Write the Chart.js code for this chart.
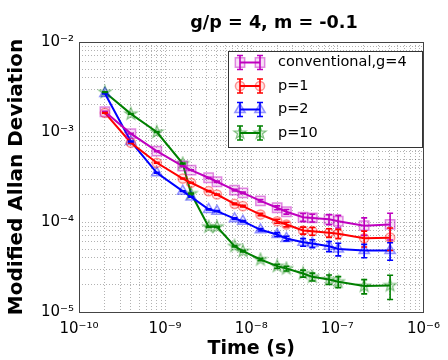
<!DOCTYPE html>
<html><head><meta charset="utf-8">
<script src="https://cdn.jsdelivr.net/npm/chart.js@4/dist/chart.umd.min.js"></script>
<style>html,body{margin:0;padding:0;background:#fff}#wrap{width:448px;height:360px}</style>
</head><body><div id="wrap"><canvas id="c" width="448" height="360"></canvas></div>
<script>
// ---- data ----
const tau = [2e-10,4e-10,8e-10,1.6e-9,2e-9,3.2e-9,4e-9,6.4e-9,8e-9,1.28e-8,2e-8,2.56e-8,4e-8,5.12e-8,8e-8,1.024e-7,2.048e-7,4.096e-7];
const seriesNames = ['conventional,g=4','p=1','p=2','p=10'];
const conventional = [1.68e-3,9.6e-4,6.12e-4,4.19e-4,3.77e-4,3.10e-4,2.80e-4,2.26e-4,2.11e-4,1.72e-4,1.44e-4,1.30e-4,1.13e-4,1.11e-4,1.07e-4,1.02e-4,9.1e-5,9.4e-5];
const p1 = [1.63e-3,7.59e-4,4.55e-4,3.04e-4,2.73e-4,2.20e-4,2.02e-4,1.59e-4,1.50e-4,1.21e-4,1.02e-4,9.38e-5,8.05e-5,7.91e-5,7.59e-5,7.40e-5,6.6e-5,6.7e-5];
const p2 = [2.68e-3,7.84e-4,3.52e-4,2.20e-4,1.90e-4,1.38e-4,1.32e-4,1.09e-4,1.02e-4,8.19e-5,7.26e-5,6.56e-5,5.97e-5,5.77e-5,5.38e-5,5.01e-5,4.82e-5,4.82e-5];
const p10 = [2.77e-3,1.59e-3,1.0e-3,4.46e-4,2.07e-4,8.85e-5,8.85e-5,5.38e-5,4.74e-5,3.83e-5,3.23e-5,3.04e-5,2.68e-5,2.46e-5,2.30e-5,2.17e-5,1.94e-5,1.97e-5];
// relative error bar half-widths (fraction of value)
const errConventional = [0.01,0.01,0.01,0.01,0.01,0.015,0.015,0.02,0.02,0.03,0.05,0.06,0.1,0.1,0.13,0.16,0.22,0.33];
const errP1 = [0.01,0.01,0.01,0.01,0.01,0.015,0.015,0.02,0.02,0.03,0.05,0.06,0.09,0.1,0.11,0.12,0.2,0.28];
const errP2 = [0.01,0.01,0.01,0.01,0.01,0.015,0.015,0.02,0.02,0.03,0.05,0.06,0.1,0.1,0.13,0.16,0.17,0.22];
const errP10 = [0.01,0.01,0.01,0.01,0.01,0.015,0.015,0.02,0.02,0.03,0.05,0.06,0.09,0.1,0.12,0.14,0.18,0.3];
const xTickExponents = [-10,-9,-8,-7,-6];
const yTickExponents = [-5,-4,-3,-2];

const FONT = 'DejaVu Sans';
const SUP = {'-':'\u207B','0':'\u2070','1':'\u00B9','2':'\u00B2','3':'\u00B3','4':'\u2074','5':'\u2075','6':'\u2076','7':'\u2077','8':'\u2078','9':'\u2079'};
function powLabel(e){ return '10' + String(e).split('').map(ch=>SUP[ch]).join(''); }
function isPow10(v){ const l=Math.log10(v); return Math.abs(l-Math.round(l))<1e-6; }
function logTicks(exps){ const t=[]; for(let e=exps[0]; e<exps[exps.length-1]; e++){ for(let m=1;m<10;m++) t.push({value:m*Math.pow(10,e)}); } t.push({value:Math.pow(10,exps[exps.length-1])}); return t; }

function starCanvas(stroke, fill){
  const c=document.createElement('canvas'); c.width=c.height=16;
  const g=c.getContext('2d'); g.beginPath();
  for(let k=0;k<10;k++){ const r=k%2?2.7:6.6; const a=-Math.PI/2+k*Math.PI/5; g.lineTo(8+r*Math.cos(a),8+r*Math.sin(a)); }
  g.closePath(); g.fillStyle=fill; g.fill(); g.strokeStyle=stroke; g.lineWidth=1.2; g.stroke(); return c;
}

const defs = [
  {label:seriesNames[0], values:conventional, err:errConventional, color:'#bf00bf', mk:'rgba(191,0,191,0.45)', mf:'rgba(191,0,191,0.12)', style:'rect', r:6.6},
  {label:seriesNames[1], values:p1, err:errP1, color:'#ff0000', mk:'rgba(255,0,0,0.4)', mf:'rgba(255,0,0,0.1)', style:'circle', r:4.6},
  {label:seriesNames[2], values:p2, err:errP2, color:'#0000ff', mk:'rgba(0,0,255,0.4)', mf:'rgba(0,0,255,0.1)', style:'triangle', r:6},
  {label:seriesNames[3], values:p10, err:errP10, color:'#008000', mk:'rgba(0,128,0,0.45)', mf:'rgba(0,128,0,0.15)', style:null, r:7}
];
defs[3].style = starCanvas(defs[3].mk, defs[3].mf);

const datasets = defs.map(d=>({
  label:d.label,
  data: tau.map((t,i)=>({x:t,y:d.values[i]})),
  borderColor:d.color, borderWidth:2, tension:0, showLine:true, fill:false,
  pointStyle:d.style, pointRadius:d.r, pointBorderColor:d.mk, pointBackgroundColor:d.mf, pointBorderWidth:1.5
}));

function drawMarker(ctx, d, x, y){
  if (typeof d.style !== 'string'){ ctx.drawImage(d.style, x-d.style.width/2, y-d.style.height/2); return; }
  ctx.save(); ctx.strokeStyle=d.mk; ctx.fillStyle=d.mf; ctx.lineWidth=1.5;
  Chart.helpers.drawPoint(ctx, {pointStyle:d.style, radius:d.r, rotation:0, borderWidth:1.5}, x, y);
  ctx.restore();
}

const extras = {
  id:'extras',
  afterDatasetsDraw(chart){
    const {ctx, chartArea:a, scales:{x,y}} = chart;
    ctx.save();
    ctx.beginPath(); ctx.rect(a.left,a.top,a.right-a.left,a.bottom-a.top); ctx.clip();
    defs.forEach(d=>{
      ctx.strokeStyle=d.color; ctx.lineWidth=1.6;
      tau.forEach((t,i)=>{
        const v=d.values[i], e=v*d.err[i];
        const px=x.getPixelForValue(t), y1=y.getPixelForValue(v+e), y2=y.getPixelForValue(v-e);
        ctx.beginPath(); ctx.moveTo(px,y1); ctx.lineTo(px,y2);
        ctx.moveTo(px-3,y1); ctx.lineTo(px+3,y1); ctx.moveTo(px-3,y2); ctx.lineTo(px+3,y2); ctx.stroke();
      });
    });
    ctx.restore();
    // frame
    ctx.save(); ctx.strokeStyle='#444'; ctx.lineWidth=1;
    ctx.strokeRect(Math.round(a.left)+0.5, Math.round(a.top)+0.5, Math.round(a.right-a.left), Math.round(a.bottom-a.top));
    ctx.restore();
    // legend
    ctx.save();
    const lx=228, ly=51, lw=194, lh=96;
    ctx.fillStyle='#fff'; ctx.fillRect(lx,ly,lw,lh);
    ctx.strokeStyle='#333'; ctx.lineWidth=1; ctx.strokeRect(lx+0.5,ly+0.5,lw,lh);
    defs.forEach((d,i)=>{
      const cy = 62.5 + i*23.5;
      ctx.strokeStyle=d.color; ctx.lineWidth=2;
      ctx.beginPath(); ctx.moveTo(240,cy); ctx.lineTo(260,cy); ctx.stroke();
      ctx.lineWidth=1.6;
      [240,260].forEach(px=>{
        ctx.beginPath(); ctx.moveTo(px,cy-7); ctx.lineTo(px,cy+7);
        ctx.moveTo(px-3,cy-7); ctx.lineTo(px+3,cy-7); ctx.moveTo(px-3,cy+7); ctx.lineTo(px+3,cy+7); ctx.stroke();
        drawMarker(ctx,d,px,cy);
      });
      ctx.fillStyle='#000'; ctx.font='14.5px "'+FONT+'"'; ctx.textBaseline='middle'; ctx.textAlign='left';
      ctx.fillText(d.label, 278, cy);
    });
    // title
    ctx.fillStyle='#000'; ctx.font='bold 17.6px "'+FONT+'"'; ctx.textAlign='center'; ctx.textBaseline='alphabetic';
    ctx.fillText('g/p = 4, m = -0.1', 274, 28);
    ctx.restore();
  }
};

new Chart(document.getElementById('c'), {
  type:'scatter',
  data:{datasets},
  options:{
    responsive:false, animation:false, devicePixelRatio:1,
    layout:{padding:{top:42,right:18,left:0,bottom:0}},
    plugins:{legend:{display:false}, tooltip:{enabled:false}},
    scales:{
      x:{type:'logarithmic', min:1e-10, max:1e-6,
        afterBuildTicks:s=>{ s.ticks = logTicks(xTickExponents); },
        afterFit:s=>{ s.height = 48; },
        ticks:{autoSkip:false, maxRotation:0, padding:8, color:'#000', font:{family:FONT,size:15},
          callback:v=> isPow10(v)? powLabel(Math.round(Math.log10(v))) : ''},
        grid:{color:'rgba(0,0,0,0.3)', lineWidth:1, drawTicks:false},
        border:{display:false, dash:[1,2]},
        title:{display:true, text:'Time (s)', color:'#000', font:{family:FONT,size:19,weight:'bold'}, padding:{top:0,bottom:0}}
      },
      y:{type:'logarithmic', min:1e-5, max:1e-2,
        afterBuildTicks:s=>{ s.ticks = logTicks(yTickExponents); },
        afterFit:s=>{ s.width = 79; },
        ticks:{autoSkip:false, padding:5, color:'#000', font:{family:FONT,size:15},
          callback:v=> isPow10(v)? powLabel(Math.round(Math.log10(v))) : ''},
        grid:{color:'rgba(0,0,0,0.3)', lineWidth:1, drawTicks:false},
        border:{display:false, dash:[1,2]},
        title:{display:true, text:'Modified Allan Deviation', color:'#000', font:{family:FONT,size:20,weight:'bold'}, padding:{top:5,bottom:0}}
      }
    }
  },
  plugins:[extras]
});
</script></body></html>
